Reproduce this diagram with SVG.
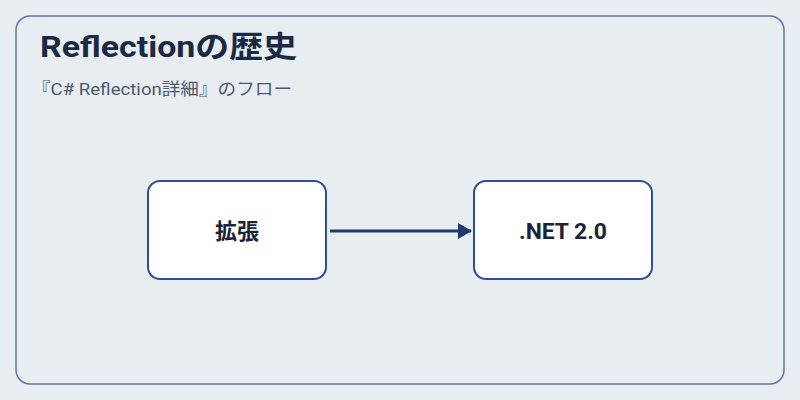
<svg xmlns="http://www.w3.org/2000/svg" width="800" height="400" viewBox="0 0 800 400">
<style>
.node{fill:#ffffff;stroke:#2f4f94;stroke-width:2}
.lbl{font-family:"Roboto","Noto Sans CJK JP",sans-serif;font-size:22px;font-weight:bold;fill:#1a2438;text-anchor:middle}
</style>
<defs><marker id="ah" markerWidth="14" markerHeight="16" refX="13" refY="8" orient="auto" markerUnits="userSpaceOnUse" viewBox="0 0 14 16"><path d="M0,0 L14,8 L0,16 z" fill="#1f3a70"/></marker></defs>
<rect width="800" height="400" fill="#e8edf2"/>
<rect x="16" y="16" width="768" height="368" rx="14" fill="#e8edf2" stroke="#5b78b0" stroke-width="1.5"/>
<text x="40" y="57" font-family="Roboto,'Noto Sans CJK JP',sans-serif" font-size="30" font-weight="bold" fill="#1a2a44" textLength="257" lengthAdjust="spacingAndGlyphs">Reflectionの歴史</text>
<text x="32" y="95" font-family="Roboto,'Noto Sans CJK JP',sans-serif" font-size="17" fill="#4a5a70" textLength="260" lengthAdjust="spacingAndGlyphs">『C# Reflection詳細』のフロー</text>
<g id="connectors"><line x1="330" y1="231" x2="471" y2="231" stroke="#1f3a70" stroke-width="3" marker-end="url(#ah)"/></g>
<g id="n1"><rect class="node" x="148" y="181" width="178" height="98" rx="12"/><text class="lbl" x="237" y="239">拡張</text></g>
<g id="n2"><rect class="node" x="474" y="181" width="178" height="98" rx="12"/><text class="lbl" x="563" y="239" textLength="88" lengthAdjust="spacingAndGlyphs">.NET 2.0</text></g>
</svg>
